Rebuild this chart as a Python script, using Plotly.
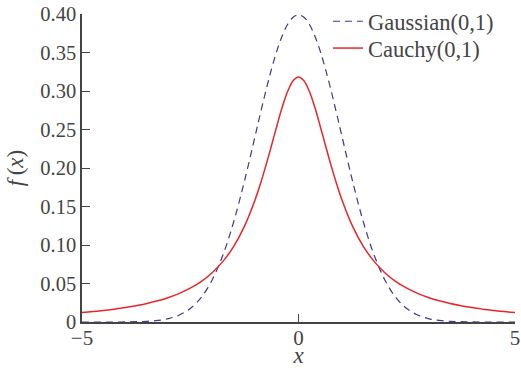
import plotly.graph_objects as go

x_vals = [-5.0, -4.75, -4.5, -4.25, -4.0, -3.75, -3.5, -3.25, -3.0, -2.75, -2.5, -2.25, -2.0,
          -1.75, -1.5, -1.25, -1.0, -0.875, -0.75, -0.625, -0.5, -0.375, -0.25, -0.125, 0.0,
          0.125, 0.25, 0.375, 0.5, 0.625, 0.75, 0.875, 1.0, 1.25,
          1.5, 1.75, 2.0, 2.25, 2.5, 2.75, 3.0, 3.25, 3.5, 3.75, 4.0, 4.25, 4.5, 4.75, 5.0]

gaussian = [0.0000, 0.0000, 0.0000, 0.0000, 0.0001, 0.0004, 0.0009, 0.0020, 0.0044, 0.0091,
            0.0175, 0.0317, 0.0540, 0.0863, 0.1295, 0.1826, 0.2420, 0.2720, 0.3011, 0.3282,
            0.3521, 0.3718, 0.3867, 0.3958, 0.3989,
            0.3958, 0.3867, 0.3718, 0.3521, 0.3282, 0.3011, 0.2720, 0.2420, 0.1826,
            0.1295, 0.0863, 0.0540, 0.0317, 0.0175, 0.0091, 0.0044, 0.0020, 0.0009, 0.0004,
            0.0001, 0.0000, 0.0000, 0.0000, 0.0000]

cauchy = [0.0122, 0.0135, 0.0150, 0.0167, 0.0187, 0.0212, 0.0240, 0.0275, 0.0318, 0.0372,
          0.0439, 0.0524, 0.0637, 0.0784, 0.0979, 0.1242, 0.1592, 0.1803, 0.2037, 0.2289,
          0.2546, 0.2791, 0.2996, 0.3134, 0.3183,
          0.3134, 0.2996, 0.2791, 0.2546, 0.2289, 0.2037, 0.1803, 0.1592, 0.1242,
          0.0979, 0.0784, 0.0637, 0.0524, 0.0439, 0.0372, 0.0318, 0.0275, 0.0240, 0.0212,
          0.0187, 0.0167, 0.0150, 0.0135, 0.0122]

x_ticks = [-5, 0, 5]
x_tick_labels = ["\u22125", "0", "5"]
y_ticks = [0, 0.05, 0.10, 0.15, 0.20, 0.25, 0.30, 0.35, 0.40]
y_tick_labels = ["0", "0.05", "0.10", "0.15", "0.20", "0.25", "0.30", "0.35", "0.40"]

FONT = "Liberation Serif, Times New Roman, serif"
GRAY = "#444444"

fig = go.Figure()
fig.add_trace(go.Scatter(x=x_vals, y=gaussian, mode="lines", name="Gaussian(0,1)",
                         legend="legend", showlegend=True,
                         line=dict(color="#3c3a8a", width=1.2, dash="7px,5px", shape="spline")))
fig.add_trace(go.Scatter(x=x_vals, y=cauchy, mode="lines", name="Cauchy(0,1)",
                         legend="legend2", showlegend=True,
                         line=dict(color="#e8262a", width=1.5, shape="spline")))

leg_common = dict(xanchor="left", yanchor="top", bgcolor="rgba(0,0,0,0)",
                  font=dict(family=FONT, size=22.5, color=GRAY), itemwidth=30)

fig.update_layout(
    width=521, height=368,
    showlegend=True,
    margin=dict(l=82, r=6, t=14, b=46, autoexpand=False),
    paper_bgcolor="white", plot_bgcolor="white",
    font=dict(family=FONT, size=22, color=GRAY),
    legend=dict(x=0.568, y=1.045, **leg_common),
    legend2=dict(x=0.568, y=0.958, **leg_common),
    xaxis=dict(range=[-5, 5], tickvals=x_ticks, ticktext=x_tick_labels,
               ticks="inside", ticklen=8, tickcolor=GRAY, tickwidth=1.3,
               showline=True, linecolor=GRAY, linewidth=1.5,
               showgrid=False, zeroline=False, automargin=False,
               ticklabelstandoff=-4,
               tickfont=dict(size=21, color=GRAY),
               title=dict(text="<i>x</i>", standoff=0, font=dict(size=23, color=GRAY))),
    yaxis=dict(range=[0, 0.40], tickvals=y_ticks, ticktext=y_tick_labels,
               ticks="inside", ticklen=8, tickcolor=GRAY, tickwidth=1.3,
               showline=True, linecolor=GRAY, linewidth=1.5,
               showgrid=False, zeroline=False, automargin=False,
               tickfont=dict(size=20.5, color=GRAY),
               title=dict(text="<i>f</i>\u2009(<i>x</i>)", standoff=10,
                          font=dict(size=23, color=GRAY))),
)

fig.write_html("out.html", config={"displayModeBar": False},
               post_script="document.body.style.margin='0';document.body.style.overflow='hidden';")
